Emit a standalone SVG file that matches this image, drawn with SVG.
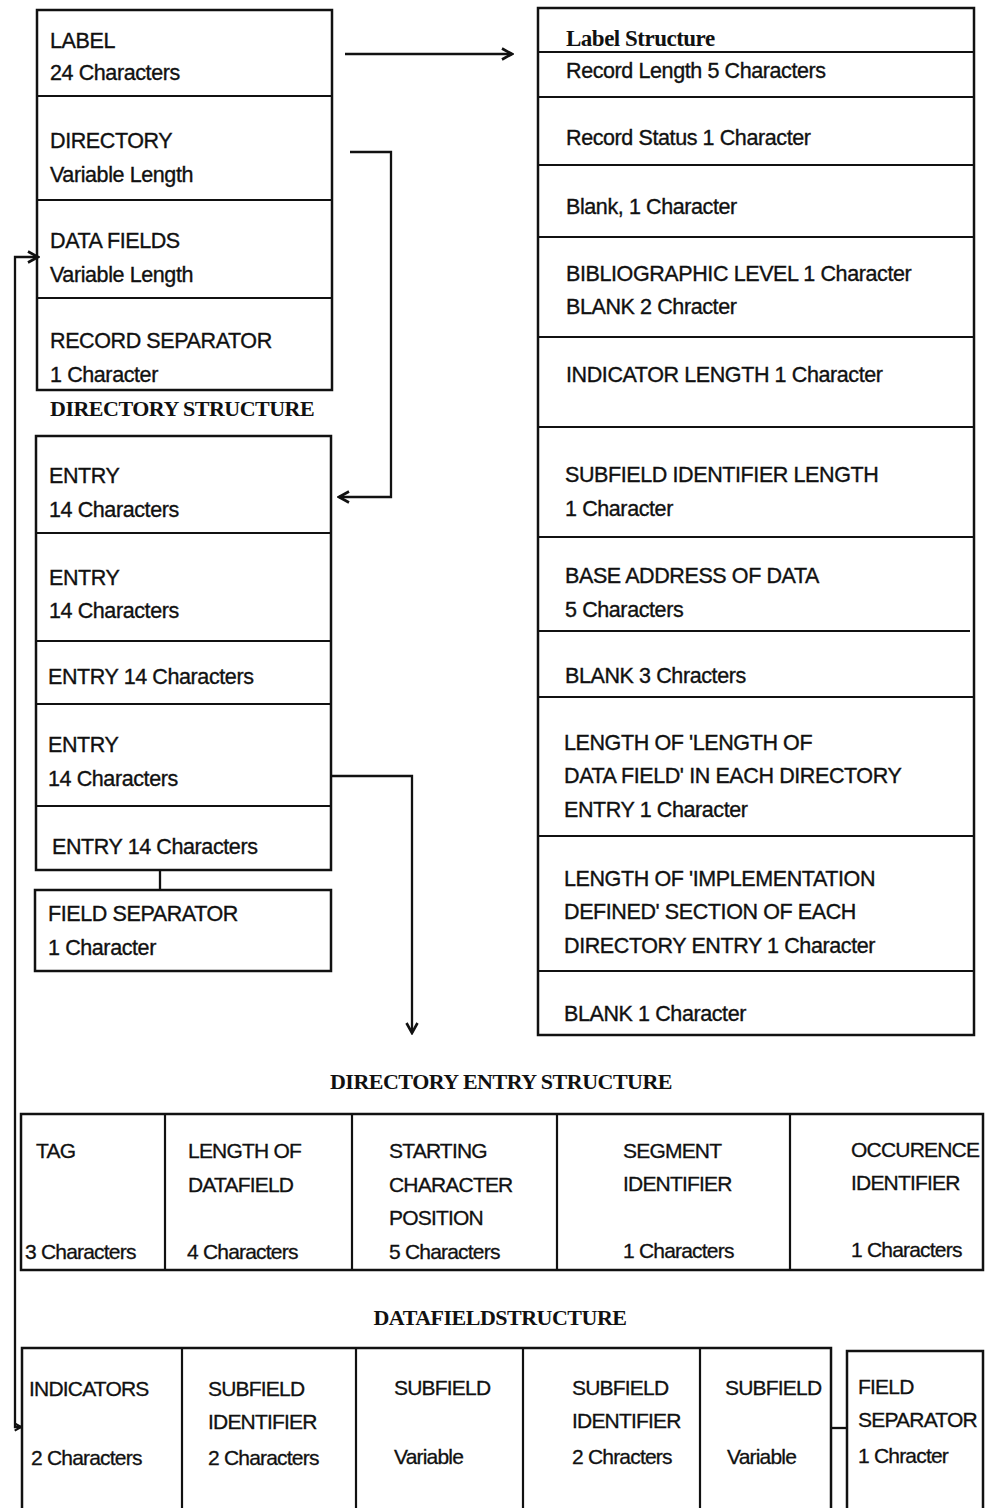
<svg xmlns="http://www.w3.org/2000/svg" width="990" height="1508" viewBox="0 0 990 1508">
  <defs>
    <style>
      .box { fill: #fff; stroke: #111; stroke-width: 2.5; }
      .div { stroke: #111; stroke-width: 2.2; fill: none; }
      .wire { stroke: #111; stroke-width: 2.3; fill: none; }
      .t { font-family: "Liberation Sans", "DejaVu Sans", sans-serif; font-size: 21.5px; fill: #111; stroke: #111; stroke-width: 0.35; letter-spacing: -0.4px; }
      .tc { font-family: "Liberation Sans", "DejaVu Sans", sans-serif; font-size: 21px; fill: #111; stroke: #111; stroke-width: 0.3; letter-spacing: -0.8px; }
      .h { font-family: "Liberation Serif", "DejaVu Serif", serif; font-weight: bold; font-size: 22px; fill: #111; letter-spacing: -0.5px; }
    </style>
    <marker id="chev" viewBox="0 0 14 14" refX="12" refY="7" markerWidth="14" markerHeight="14" markerUnits="userSpaceOnUse" orient="auto-start-reverse">
      <path d="M2,1.5 L12,7 L2,12.5" fill="none" stroke="#111" stroke-width="2.6" stroke-linejoin="miter"/>
    </marker>
    <marker id="chevSmall" viewBox="0 0 10 10" refX="9" refY="5" markerWidth="9" markerHeight="9" markerUnits="userSpaceOnUse" orient="auto-start-reverse">
      <path d="M2,1 L9,5 L2,9" fill="none" stroke="#111" stroke-width="2.4"/>
    </marker>
  </defs>
  <rect width="990" height="1508" fill="#fff"/>

  <!-- Record layout -->
  <g id="record">
    <rect class="box" x="37" y="10" width="295" height="380"/>
    <line class="div" x1="37" y1="96" x2="332" y2="96"/>
    <line class="div" x1="37" y1="200" x2="332" y2="200"/>
    <line class="div" x1="37" y1="298" x2="332" y2="298"/>
    <text class="t" x="50" y="48">LABEL</text>
    <text class="t" x="50" y="80">24 Characters</text>
    <text class="t" x="50" y="148">DIRECTORY</text>
    <text class="t" x="50" y="182">Variable Length</text>
    <text class="t" x="50" y="248">DATA FIELDS</text>
    <text class="t" x="50" y="282">Variable Length</text>
    <text class="t" x="50" y="348">RECORD SEPARATOR</text>
    <text class="t" x="50" y="382">1 Character</text>
  </g>

  <text class="h" x="50" y="416">DIRECTORY STRUCTURE</text>

  <!-- Directory entries -->
  <g id="directory">
    <rect class="box" x="36" y="436" width="295" height="434"/>
    <line class="div" x1="36" y1="533" x2="331" y2="533"/>
    <line class="div" x1="36" y1="641" x2="331" y2="641"/>
    <line class="div" x1="36" y1="704" x2="331" y2="704"/>
    <line class="div" x1="36" y1="806" x2="331" y2="806"/>
    <text class="t" x="49" y="483">ENTRY</text>
    <text class="t" x="49" y="517">14 Characters</text>
    <text class="t" x="49" y="585">ENTRY</text>
    <text class="t" x="49" y="618">14 Characters</text>
    <text class="t" x="48" y="684">ENTRY 14 Characters</text>
    <text class="t" x="48" y="752">ENTRY</text>
    <text class="t" x="48" y="786">14 Characters</text>
    <text class="t" x="52" y="854">ENTRY  14 Characters</text>
  </g>

  <g id="field-separator">
    <rect class="box" x="35" y="890" width="296" height="81"/>
    <text class="t" x="48" y="921">FIELD SEPARATOR</text>
    <text class="t" x="48" y="955">1 Character</text>
  </g>

  <!-- Label structure -->
  <g id="label-structure">
    <rect class="box" x="538" y="8" width="436" height="1027"/>
    <line class="div" x1="538" y1="52" x2="974" y2="52"/>
    <line class="div" x1="538" y1="97" x2="974" y2="97"/>
    <line class="div" x1="538" y1="165" x2="974" y2="165"/>
    <line class="div" x1="538" y1="237" x2="974" y2="237"/>
    <line class="div" x1="538" y1="337" x2="974" y2="337"/>
    <line class="div" x1="538" y1="427" x2="974" y2="427"/>
    <line class="div" x1="538" y1="537" x2="974" y2="537"/>
    <line class="div" x1="538" y1="631" x2="970" y2="631"/>
    <line class="div" x1="538" y1="697" x2="974" y2="697"/>
    <line class="div" x1="538" y1="836" x2="974" y2="836"/>
    <line class="div" x1="538" y1="971" x2="974" y2="971"/>
    <text class="h" x="566" y="46" style="font-size:23px">Label Structure</text>
    <text class="t" x="566" y="78">Record Length 5 Characters</text>
    <text class="t" x="566" y="145">Record Status 1 Character</text>
    <text class="t" x="566" y="214">Blank, 1 Character</text>
    <text class="t" x="566" y="281">BIBLIOGRAPHIC LEVEL 1 Character</text>
    <text class="t" x="566" y="314">BLANK  2 Chracter</text>
    <text class="t" x="566" y="382">INDICATOR LENGTH 1 Character</text>
    <text class="t" x="565" y="482">SUBFIELD IDENTIFIER LENGTH</text>
    <text class="t" x="565" y="516">1 Character</text>
    <text class="t" x="565" y="583">BASE ADDRESS OF DATA</text>
    <text class="t" x="565" y="617">5 Characters</text>
    <text class="t" x="565" y="683">BLANK 3 Chracters</text>
    <text class="t" x="564" y="750">LENGTH OF 'LENGTH OF</text>
    <text class="t" x="564" y="783">DATA FIELD' IN EACH DIRECTORY</text>
    <text class="t" x="564" y="817">ENTRY  1 Character</text>
    <text class="t" x="564" y="886">LENGTH OF 'IMPLEMENTATION</text>
    <text class="t" x="564" y="919">DEFINED' SECTION OF EACH</text>
    <text class="t" x="564" y="953">DIRECTORY ENTRY  1 Character</text>
    <text class="t" x="564" y="1021">BLANK  1 Character</text>
  </g>

  <text class="h" x="501" y="1089" text-anchor="middle">DIRECTORY ENTRY STRUCTURE</text>

  <!-- Directory entry structure -->
  <g id="entry-structure">
    <rect class="box" x="21" y="1114" width="962" height="156"/>
    <line class="div" x1="165" y1="1114" x2="165" y2="1270"/>
    <line class="div" x1="352" y1="1114" x2="352" y2="1270"/>
    <line class="div" x1="557" y1="1114" x2="557" y2="1270"/>
    <line class="div" x1="790" y1="1114" x2="790" y2="1270"/>
    <text class="tc" x="36" y="1158">TAG</text>
    <text class="tc" x="25" y="1259">3 Characters</text>
    <text class="tc" x="188" y="1158">LENGTH OF</text>
    <text class="tc" x="188" y="1192">DATAFIELD</text>
    <text class="tc" x="187" y="1259">4 Characters</text>
    <text class="tc" x="389" y="1158">STARTING</text>
    <text class="tc" x="389" y="1192">CHARACTER</text>
    <text class="tc" x="389" y="1225">POSITION</text>
    <text class="tc" x="389" y="1259">5 Characters</text>
    <text class="tc" x="623" y="1158">SEGMENT</text>
    <text class="tc" x="623" y="1191">IDENTIFIER</text>
    <text class="tc" x="623" y="1258">1 Characters</text>
    <text class="tc" x="851" y="1157">OCCURENCE</text>
    <text class="tc" x="851" y="1190">IDENTIFIER</text>
    <text class="tc" x="851" y="1257">1 Characters</text>
  </g>

  <text class="h" x="500" y="1325" text-anchor="middle" word-spacing="-5">DATAFIELD STRUCTURE</text>

  <!-- Data field structure -->
  <g id="datafield-structure">
    <rect class="box" x="22" y="1348" width="809" height="180"/>
    <line class="div" x1="182" y1="1348" x2="182" y2="1508"/>
    <line class="div" x1="356" y1="1348" x2="356" y2="1508"/>
    <line class="div" x1="523" y1="1348" x2="523" y2="1508"/>
    <line class="div" x1="700" y1="1348" x2="700" y2="1508"/>
    <text class="tc" x="29" y="1396">INDICATORS</text>
    <text class="tc" x="31" y="1465">2 Characters</text>
    <text class="tc" x="208" y="1396">SUBFIELD</text>
    <text class="tc" x="208" y="1429">IDENTIFIER</text>
    <text class="tc" x="208" y="1465">2 Characters</text>
    <text class="tc" x="394" y="1395">SUBFIELD</text>
    <text class="tc" x="394" y="1464">Variable</text>
    <text class="tc" x="572" y="1395">SUBFIELD</text>
    <text class="tc" x="572" y="1428">IDENTIFIER</text>
    <text class="tc" x="572" y="1464">2 Chracters</text>
    <text class="tc" x="725" y="1395">SUBFIELD</text>
    <text class="tc" x="727" y="1464">Variable</text>
  </g>

  <g id="datafield-separator">
    <rect class="box" x="847" y="1351" width="136" height="180"/>
    <text class="tc" x="858" y="1394">FIELD</text>
    <text class="tc" x="858" y="1427">SEPARATOR</text>
    <text class="tc" x="858" y="1463">1 Chracter</text>
  </g>

  <!-- Connectors -->
  <g id="connectors">
    <line class="wire" x1="345" y1="54" x2="512" y2="54" marker-end="url(#chev)"/>
    <polyline class="wire" points="350,152 391,152 391,497 339,497" marker-end="url(#chev)"/>
    <line class="wire" x1="160" y1="870" x2="160" y2="890"/>
    <polyline class="wire" points="331,776 412,776 412,1033" marker-end="url(#chev)"/>
    <polyline class="wire" points="21,1427 15,1427 15,257 38,257" marker-start="url(#chevSmall)" marker-end="url(#chev)"/>
    <line class="wire" x1="831" y1="1428" x2="847" y2="1428"/>
  </g>
</svg>
